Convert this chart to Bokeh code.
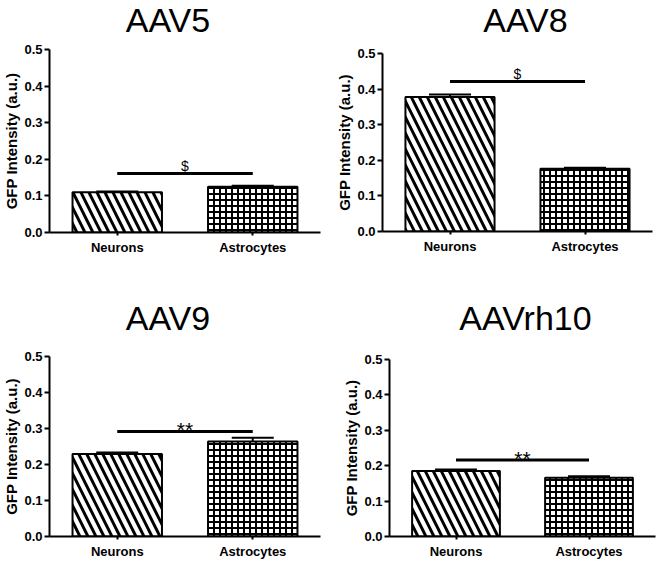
from bokeh.plotting import figure
from bokeh.layouts import column, row
from bokeh.models import (FactorRange, Range1d, Div, Whisker, TeeHead,
                          ColumnDataSource, FixedTicker, CustomJSTickFormatter)
from bokeh.core.properties import value
from bokeh.embed import file_html
from bokeh.resources import INLINE

# ---------------- data ----------------
titles = ["AAV5", "AAV8", "AAV9", "AAVrh10"]
cats = ["Neurons", "Astrocytes"]
neurons_mean = [0.110, 0.378, 0.229, 0.185]
neurons_err = [0.002, 0.007, 0.004, 0.004]
astro_mean = [0.125, 0.176, 0.264, 0.166]
astro_err = [0.003, 0.003, 0.010, 0.004]
sig_y = [0.161, 0.421, 0.292, 0.216]
sig_label = ["$", "$", "**", "**"]
y_ticks = [0.0, 0.1, 0.2, 0.3, 0.4, 0.5]
y_max = 0.5

FONT = "Liberation Sans"

# layout per panel: width, title-div height, figure height, borders (l, r, t, b),
# title horizontal shift and vertical position inside the div
layout = [
    dict(w=330, dh=40, h=240, l=45, r=10, t=9, b=48, dx=3, dy=0),
    dict(w=327, dh=40, h=240, l=52, r=5, t=13, b=49, dx=32, dy=0),
    dict(w=330, dh=58, h=223, l=45, r=10, t=18, b=23, dx=3, dy=18),
    dict(w=327, dh=58, h=223, l=59, r=2, t=21, b=23, dx=32, dy=18),
]


def make_panel(i):
    L = layout[i]
    title_html = (
        f'<div style="position:relative; left:{L["dx"]}px; top:{L["dy"]}px; '
        f'width:{L["w"]}px; text-align:center; font-family:\'{FONT}\'; '
        f'font-size:34px; line-height:40px; color:black; margin:0; padding:0;">'
        f'{titles[i]}</div>'
    )
    div = Div(text=title_html, width=L["w"], height=L["dh"], margin=(0, 0, 0, 0),
              styles={"overflow": "visible"})

    p = figure(width=L["w"], height=L["h"], x_range=FactorRange(factors=cats),
               y_range=Range1d(0, y_max), output_backend="svg",
               toolbar_location=None, min_border_left=L["l"],
               min_border_right=L["r"], min_border_top=L["t"],
               min_border_bottom=L["b"], margin=(0, 0, 0, 0))
    p.outline_line_color = None
    p.xgrid.grid_line_color = None
    p.ygrid.grid_line_color = None
    p.background_fill_color = "white"
    p.border_fill_color = "white"

    # bars
    p.vbar(x=[cats[0]], top=[neurons_mean[i]], width=0.66,
           fill_color="white", line_color="black", line_width=2,
           hatch_pattern="left_diagonal_line", hatch_color="black",
           hatch_scale=16, hatch_weight=3)
    p.vbar(x=[cats[1]], top=[astro_mean[i]], width=0.66,
           fill_color="white", line_color="black", line_width=2,
           hatch_pattern="cross", hatch_color="black",
           hatch_scale=6, hatch_weight=2)

    # error bars (upper only)
    src = ColumnDataSource(dict(
        x=cats,
        lower=[neurons_mean[i], astro_mean[i]],
        upper=[neurons_mean[i] + neurons_err[i], astro_mean[i] + astro_err[i]],
    ))
    w = Whisker(base="x", lower="lower", upper="upper", source=src,
                line_color="black", line_width=2,
                upper_head=TeeHead(size=42, line_color="black", line_width=2),
                lower_head=None)
    p.add_layout(w)

    # significance bar
    p.line(x=cats, y=[sig_y[i], sig_y[i]], line_color="black", line_width=3)
    mid = len(cats) / 2.0
    is_star = sig_label[i] == "**"
    p.text(x=[mid], y=[sig_y[i]], text=[sig_label[i]],
           text_font=value(FONT),
           text_font_size="21px" if is_star else "14px",
           text_align="center", text_baseline="alphabetic",
           y_offset=-2 if is_star else -8, text_color="black")

    # axes
    p.yaxis.ticker = FixedTicker(ticks=y_ticks)
    p.yaxis.formatter = CustomJSTickFormatter(code="return tick.toFixed(1);")
    p.yaxis.axis_label = "GFP Intensity (a.u.)"
    for ax in (p.xaxis[0], p.yaxis[0]):
        ax.axis_line_width = 2
        ax.axis_line_color = "black"
        ax.major_tick_line_width = 2
        ax.major_tick_line_color = "black"
        ax.major_tick_in = 0
        ax.minor_tick_line_color = None
        ax.major_label_text_font = FONT
        ax.major_label_text_font_style = "bold"
        ax.major_label_text_font_size = "13px"
        ax.major_label_text_color = "black"
    p.yaxis.major_tick_out = 5
    p.yaxis.major_label_standoff = 2
    p.yaxis.axis_label_text_font = FONT
    p.yaxis.axis_label_text_font_style = "bold"
    p.yaxis.axis_label_text_font_size = "15px"
    p.yaxis.axis_label_text_color = "black"
    p.yaxis.axis_label_standoff = 1
    p.xaxis.major_tick_out = 3
    p.xaxis.major_label_standoff = 4
    return column(div, p, spacing=0)


panels = [make_panel(i) for i in range(4)]
layout_obj = column(row(panels[0], panels[1], spacing=0),
                    row(panels[2], panels[3], spacing=0), spacing=0)

open("out.html", "w").write(file_html(layout_obj, INLINE))
